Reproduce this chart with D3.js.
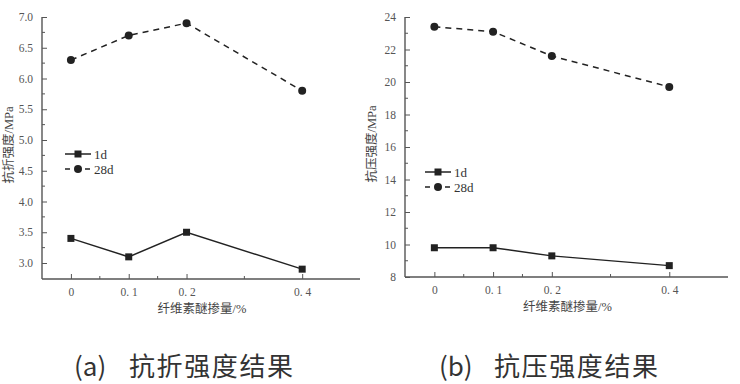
<!DOCTYPE html>
<html>
<head>
<meta charset="utf-8">
<script src="https://cdn.jsdelivr.net/npm/d3@7"></script>
<style>
  body { margin: 0; background: #fff; }
  svg text { font-family: "Liberation Serif", "Noto Sans CJK SC", serif; }
</style>
</head>
<body>
<div id="chart"></div>
<script>
// data
var dosage = [0, 0.1, 0.2, 0.4]
var xMajor = [0, 0.1, 0.2, 0.4]
var xMinor = [0.05, 0.15, 0.3]

var flex1d = [3.4, 3.1, 3.5, 2.9]
var flex28d = [6.3, 6.7, 6.9, 5.8]
var flexTicks = [3.0, 3.5, 4.0, 4.5, 5.0, 5.5, 6.0, 6.5, 7.0]

var comp1d = [9.8, 9.8, 9.3, 8.7]
var comp28d = [23.4, 23.1, 21.6, 19.7]
var compTicks = [8, 10, 12, 14, 16, 18, 20, 22, 24]

var seriesNames = ["1d", "28d"]

const svg = d3.select("#chart").append("svg")
  .attr("width", 740).attr("height", 384)

const axisColor = "#555"
const lineColor = "#222"
const capFont = "'Noto Sans CJK SC', sans-serif"

function panel(opt) {
  const g = svg.append("g")

  const x = d3.scaleLinear().domain([-0.05, 0.5]).range([opt.left, opt.right])
  const y = d3.scaleLinear().domain(opt.yDomain).range([opt.bottom, opt.top])

  // x axis, ticks inward
  const xAxis = g.append("g").attr("transform", `translate(0,${opt.bottom})`)
    .call(d3.axisBottom(x).tickValues(xMajor).tickSize(-5).tickPadding(9)
      .tickFormat(d => d3.format(".1f")(d).replace(".", ". ").replace(/^0\. 0$/, "0")))
  xAxis.selectAll(".minor").data(xMinor).join("line")
    .attr("x1", d => x(d)).attr("x2", d => x(d)).attr("y1", 0).attr("y2", -3)
    .attr("stroke", axisColor)

  // y axis, ticks inward
  const yAxis = g.append("g").attr("transform", `translate(${opt.left},0)`)
    .call(d3.axisLeft(y).tickValues(opt.ticks).tickSize(-5).tickPadding(9)
      .tickFormat(opt.fmt))
  const step = opt.ticks[1] - opt.ticks[0]
  yAxis.selectAll(".minor").data(opt.ticks.slice(0, -1).map(d => d + step / 2)).join("line")
    .attr("x1", 0).attr("x2", 3).attr("y1", d => y(d)).attr("y2", d => y(d))
    .attr("stroke", axisColor)

  g.selectAll(".domain").attr("stroke", axisColor).attr("stroke-width", 1.4)
  xAxis.select(".domain").attr("d", `M${opt.left},0H${opt.right}`)
  yAxis.select(".domain").attr("d", `M0,${opt.top}V${opt.bottom}`)
  g.selectAll(".tick line").attr("stroke", axisColor)
  g.selectAll(".tick text").attr("fill", "#555").attr("font-size", 11.5)

  const line = d3.line().x(d => x(d[0])).y(d => y(d[1]))

  const s1 = dosage.map((d, i) => [d, opt.a[i]])
  const s2 = dosage.map((d, i) => [d, opt.b[i]])

  g.append("path").attr("d", line(s1)).attr("fill", "none")
    .attr("stroke", lineColor).attr("stroke-width", 1.5)
  g.append("path").attr("d", line(s2)).attr("fill", "none")
    .attr("stroke", lineColor).attr("stroke-width", 1.5).attr("stroke-dasharray", "6,5")

  g.selectAll(".sq").data(s1).join("rect")
    .attr("x", d => x(d[0]) - 3.5).attr("y", d => y(d[1]) - 3.5)
    .attr("width", 7).attr("height", 7).attr("fill", lineColor)
  g.selectAll(".ci").data(s2).join("circle")
    .attr("cx", d => x(d[0])).attr("cy", d => y(d[1])).attr("r", 4)
    .attr("fill", lineColor)

  // legend
  const lg = g.append("g").attr("transform", `translate(${opt.legX},${opt.legY})`)
  lg.append("line").attr("x1", 0).attr("x2", 26).attr("y1", 0).attr("y2", 0)
    .attr("stroke", lineColor).attr("stroke-width", 1.5)
  lg.append("rect").attr("x", 13 - 3.5).attr("y", -3.5).attr("width", 7).attr("height", 7)
    .attr("fill", lineColor)
  lg.append("line").attr("x1", 0).attr("x2", 26).attr("y1", 15).attr("y2", 15)
    .attr("stroke", lineColor).attr("stroke-width", 1.5).attr("stroke-dasharray", "5,5")
  lg.append("circle").attr("cx", 13).attr("cy", 15).attr("r", 4).attr("fill", lineColor)
  lg.selectAll("text").data(seriesNames).join("text")
    .attr("x", 29).attr("y", (d, i) => i * 15 + 4.5)
    .attr("font-size", 13).attr("fill", "#333").text(d => d)

  // axis titles
  g.append("text")
    .attr("transform", `translate(${opt.left - 29},${(opt.top + opt.bottom) / 2 - 3}) rotate(-90)`)
    .attr("text-anchor", "middle").attr("font-size", 12.5).attr("fill", "#444")
    .text(opt.yTitle)
  g.append("text").attr("x", (opt.left + opt.right) / 2 + 1).attr("y", opt.bottom + 34)
    .attr("text-anchor", "middle").attr("font-size", 12.5).attr("fill", "#444")
    .text("纤维素醚掺量/%")

  // caption
  svg.append("text").attr("x", opt.capX).attr("y", 376)
    .style("font-family", capFont).attr("font-size", 26).attr("fill", "#333")
    .text(opt.capTag)
  svg.append("text").attr("x", opt.capX2).attr("y", 376)
    .style("font-family", capFont).attr("font-size", 26).attr("fill", "#333")
    .attr("letter-spacing", 1.6).text(opt.caption)
}

panel({
  left: 42, right: 360, top: 17, bottom: 279,
  yDomain: [2.74, 7.0], ticks: flexTicks, fmt: d => d3.format(".1f")(d),
  a: flex1d, b: flex28d, legX: 65, legY: 154,
  yTitle: "抗折强度/MPa", capTag: "(a)", caption: "抗折强度结果", capX: 74, capX2: 129
})

panel({
  left: 405, right: 728, top: 17, bottom: 277,
  yDomain: [8, 24], ticks: compTicks, fmt: d => d,
  a: comp1d, b: comp28d, legX: 425, legY: 172,
  yTitle: "抗压强度/MPa", capTag: "(b)", caption: "抗压强度结果", capX: 439, capX2: 494
})
</script>
</body>
</html>
